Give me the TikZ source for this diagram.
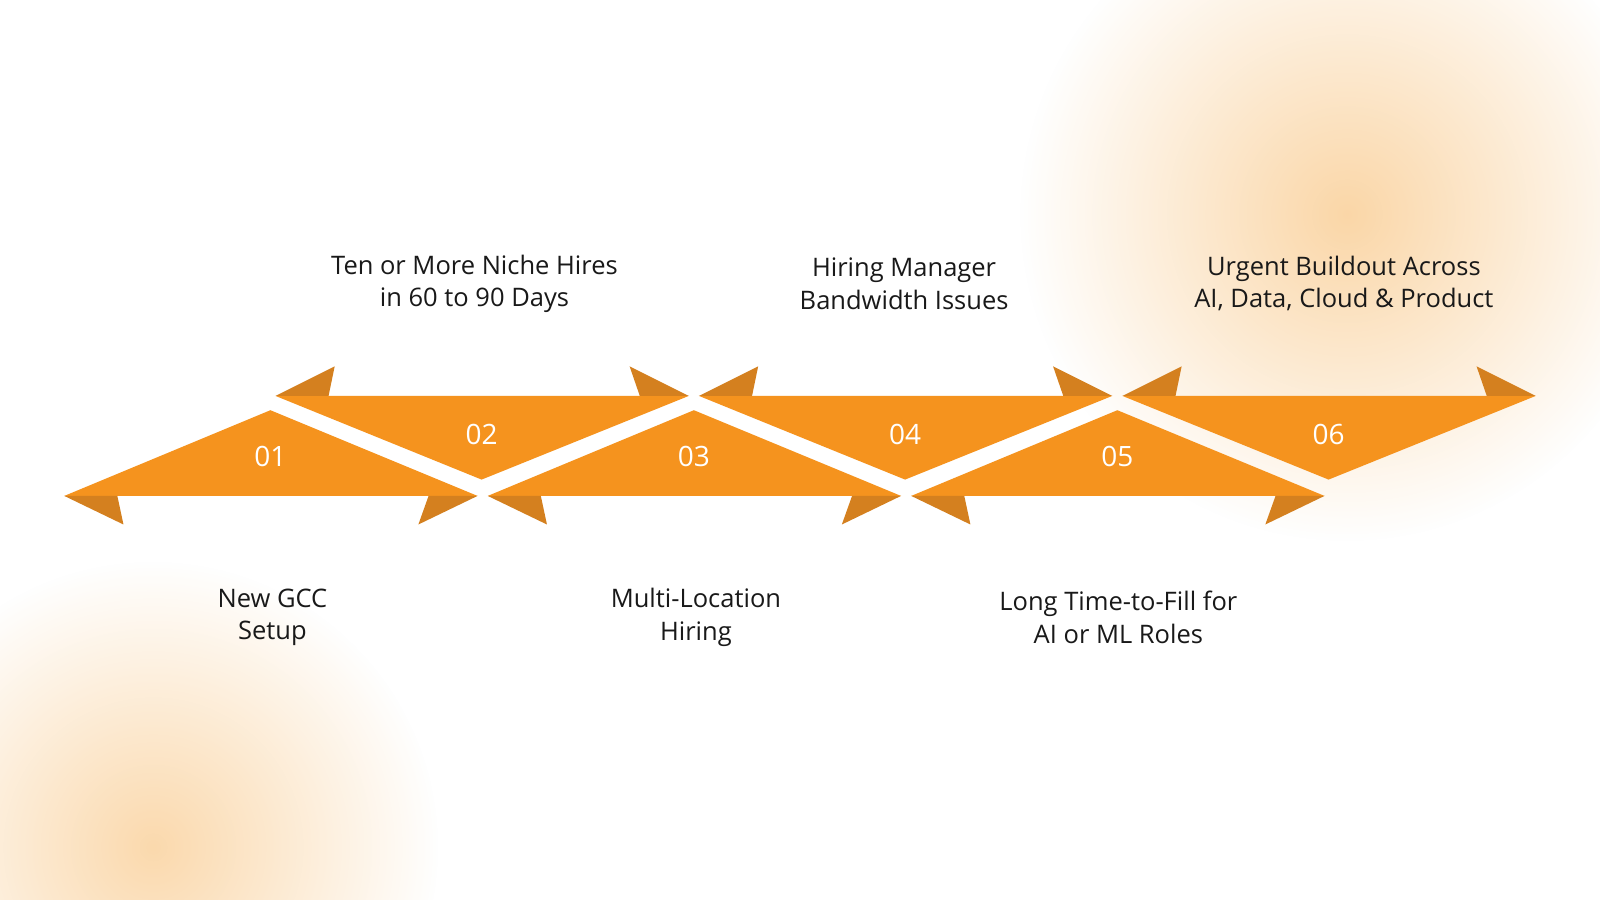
\documentclass[tikz,border=0pt]{standalone}
\usepackage{fontspec}
\setmainfont{Open Sans}
\usetikzlibrary{fadings}
\definecolor{org}{HTML}{F5931E}
\definecolor{flap}{HTML}{D4801F}
\definecolor{glow}{HTML}{F9C98A}
\tikzfading[name=fuzzy, inner color=transparent!0, outer color=transparent!100]
\tikzset{tri/.style={fill=org},
  fl/.style={fill=flap},
  num/.style={text=white, font=\fontsize{28}{30}\selectfont},
  lab/.style={align=center, text=black!90, font=\fontsize{25.5}{32.5}\selectfont}}
\begin{document}
\begin{tikzpicture}[x=1.0204pt,y=-1.0204pt]
\useasboundingbox (0,0) rectangle (1568,882);
\fill[white] (0,0) rectangle (1568,882);
\fill[glow, opacity=0.75, path fading=fuzzy] (1320,210) circle (320);
\fill[glow, opacity=0.7, path fading=fuzzy] (150,830) circle (280);
\foreach \c/\n in {265/01,680/03,1095/05}{
  \path[tri] (\c-202,486) -- (\c,402) -- (\c+203,486) -- cycle;
  \fill[fl] (\c-202,486) -- (\c-150,486) -- (\c-144,514) -- cycle;
  \fill[fl] (\c+203,486) -- (\c+155,486) -- (\c+145,514) -- cycle;
  \node[num] (n\n) at (\c,447) {\n};
}
\foreach \c/\n in {472/02,887/04,1302/06}{
  \path[tri] (\c-202,388) -- (\c,470) -- (\c+203,388) -- cycle;
  \fill[fl] (\c-202,388) -- (\c-150,388) -- (\c-144,359) -- cycle;
  \fill[fl] (\c+203,388) -- (\c+155,388) -- (\c+145,359) -- cycle;
  \node[num] (n\n) at (\c,426) {\n};
}
\node[lab] (l1) at (267,605) {New GCC\\Setup};
\node[lab] (l2) at (465,278) {Ten or More Niche Hires\\in 60 to 90 Days};
\node[lab] (l3) at (682,605) {Multi-Location\\Hiring};
\node[lab] (l4) at (886,278) {Hiring Manager\\Bandwidth Issues};
\node[lab] (l5) at (1096,605) {Long Time-to-Fill for\\AI or ML Roles};
\node[lab] (l6) at (1317,278) {Urgent Buildout Across\\AI, Data, Cloud \& Product};
\end{tikzpicture}
\end{document}
